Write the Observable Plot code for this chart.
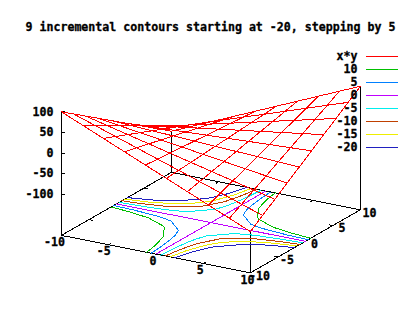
<!DOCTYPE html>
<html><head><meta charset="utf-8">
<script src="https://cdn.jsdelivr.net/npm/d3@7"></script>
<script src="https://cdn.jsdelivr.net/npm/@observablehq/plot@0.6"></script>
<style>html,body{margin:0;padding:0;background:#fff}svg{display:block}</style>
</head><body><div id="chart"></div>
<script>
const titleText = "9 incremental contours starting at -20, stepping by 5";
const legendLabels = ["x*y","10","5","0","-5","-10","-15","-20"];
const legendColors = ["#ff0000","#00c000","#0080ff","#c000ff","#00eeee","#c04000","#eeee00","#2020c0"];
const gridValues = [-10,-7.78,-5.56,-3.33,-1.11,1.11,3.33,5.56,7.78,10];
const surfaceZ = [
 [100,77.8,55.6,33.3,11.1,-11.1,-33.3,-55.6,-77.8,-100],
 [77.8,60.5,43.2,25.9,8.6,-8.6,-25.9,-43.2,-60.5,-77.8],
 [55.6,43.2,30.9,18.5,6.2,-6.2,-18.5,-30.9,-43.2,-55.6],
 [33.3,25.9,18.5,11.1,3.7,-3.7,-11.1,-18.5,-25.9,-33.3],
 [11.1,8.6,6.2,3.7,1.2,-1.2,-3.7,-6.2,-8.6,-11.1],
 [-11.1,-8.6,-6.2,-3.7,-1.2,1.2,3.7,6.2,8.6,11.1],
 [-33.3,-25.9,-18.5,-11.1,-3.7,3.7,11.1,18.5,25.9,33.3],
 [-55.6,-43.2,-30.9,-18.5,-6.2,6.2,18.5,30.9,43.2,55.6],
 [-77.8,-60.5,-43.2,-25.9,-8.6,8.6,25.9,43.2,60.5,77.8],
 [-100,-77.8,-55.6,-33.3,-11.1,11.1,33.3,55.6,77.8,100]
];
// contour branches as |x|,|y| pairs
const contour5  = [[10,.5],[7.78,.64],[5.56,.9],[4.5,1.11],[3.33,1.5],[1.5,3.33],[1.11,4.5],[.9,5.56],[.64,7.78],[.5,10]];
const contour10 = [[10,1],[9,1.11],[7.78,1.29],[5.56,1.8],[3.33,3],[3,3.33],[1.8,5.56],[1.29,7.78],[1.11,9],[1,10]];
const contour15 = [[10,1.5],[7.78,1.93],[5.56,2.7],[4.5,3.33],[3.33,4.5],[2.7,5.56],[1.93,7.78],[1.5,10]];
const contour20 = [[10,2],[7.78,2.57],[6,3.33],[5.56,3.6],[3.6,5.56],[3.33,6],[2.57,7.78],[2,10]];
const contour0a = [[-10,0],[-1.11,0],[1.11,0],[10,0]];
const contour0b = [[0,-10],[0,-1.11],[0,1.11],[0,10]];
const xTicks = [-10,-5,0,5,10];
const yTicks = [-10,-5,0,5,10];
const zTicks = [-100,-50,0,50,100];
const zBase = -200, zTop = 100;

const font = '"DejaVu Sans Mono", monospace';
const fs = 11.6;
// gnuplot's 3D view: an affine projection onto the picture plane
const P = (x,y,z=zBase) => ({u: 210.4 + 9.45*x + 5.5*y, v: 222.1 + 1.87*x - 3.15*y - 0.412*(z-zBase)});

const surf = [];
gridValues.forEach((gx,i)=>gridValues.forEach((gy,j)=>surf.push({...P(gx,gy,surfaceZ[i][j]),k:"x"+i})));
gridValues.forEach((gy,j)=>gridValues.forEach((gx,i)=>surf.push({...P(gx,gy,surfaceZ[i][j]),k:"y"+j})));

const cont = [];
const addBranch=(pts,sx,sy,label,k)=>pts.forEach(([a,b])=>cont.push({...P(a*sx,b*sy),label,k}));
[["10",contour10,1],["5",contour5,1],["-5",contour5,-1],["-10",contour10,-1],["-15",contour15,-1],["-20",contour20,-1]].forEach(([label,pts,s])=>{
  addBranch(pts,-1,-s,label,label+"a");
  addBranch(pts,1,s,label,label+"b");
});
addBranch(contour0a,1,1,"0","0a");
addBranch(contour0b,1,1,"0","0b");

const link=(a,b)=>({x1:a.u,y1:a.v,x2:b.u,y2:b.v});
const borders=[
 link(P(-10,-10),P(10,-10)),link(P(10,-10),P(10,10)),link(P(10,10),P(-10,10)),link(P(-10,10),P(-10,-10)),
 link(P(-10,-10),P(-10,-10,zTop)),link(P(10,10),P(10,10,zTop)),
 link(P(10,-10),P(10,-10,-100)),link(P(-10,10),P(-10,10,-100))
];
const tl=.45;
const ticks=[
 ...xTicks.flatMap(t=>[link(P(t,-10),P(t,-10+tl)),link(P(t,10),P(t,10-tl))]),
 ...yTicks.flatMap(t=>[link(P(-10,t),P(-10+tl,t)),link(P(10,t),P(10-tl,t))]),
 ...zTicks.map(t=>{const a=P(-10,-10,t);return {x1:a.u,y1:a.v,x2:a.u+4,y2:a.v};})
];
const crisp={shapeRendering:"crispEdges"};
const legendRows=legendLabels.map((label,i)=>({label,y:55.5+13*i}));
const textOpts={fontFamily:font,fontSize:fs,fontWeight:"bold",fill:"black",stroke:"black",strokeWidth:0.3};

const chart=Plot.plot({
  width:420,height:320,margin:0,
  style:{background:"#fff",overflow:"visible"},
  x:{domain:[0,420],range:[0,420],axis:null},
  y:{domain:[0,320],range:[0,320],axis:null},
  color:{domain:legendLabels,range:legendColors},
  marks:[
    Plot.link(borders,{x1:"x1",y1:"y1",x2:"x2",y2:"y2",stroke:"black",strokeWidth:1,...crisp}),
    Plot.link(ticks,{x1:"x1",y1:"y1",x2:"x2",y2:"y2",stroke:"black",strokeWidth:1,...crisp}),
    Plot.line(cont,{x:"u",y:"v",z:"k",stroke:"label",strokeWidth:1,curve:"linear",...crisp}),
    Plot.line(surf,{x:"u",y:"v",z:"k",stroke:()=>"x*y",strokeWidth:1,curve:"linear",...crisp}),
    Plot.text([titleText],{frameAnchor:"top",dy:22,text:d=>d,...textOpts}),
    Plot.text(zTicks,{x:()=>P(-10,-10).u,y:d=>P(-10,-10,d).v,text:String,textAnchor:"end",dx:-8,...textOpts}),
    Plot.text(xTicks,{x:d=>P(d,-10).u+Math.min(0,d)*0.4,y:d=>P(d,-10).v,text:String,dx:-3,dy:7,...textOpts}),
    Plot.text(yTicks,{x:d=>P(10,d).u,y:d=>P(10,d).v,text:String,dx:9,dy:3,...textOpts}),
    Plot.text(legendRows,{x:()=>357,y:"y",text:"label",textAnchor:"end",...textOpts}),
    Plot.link(legendRows,{x1:()=>365,x2:()=>397,y1:"y",y2:"y",stroke:"label",strokeWidth:1,...crisp})
  ]
});
document.getElementById("chart").append(chart);
</script></body></html>
